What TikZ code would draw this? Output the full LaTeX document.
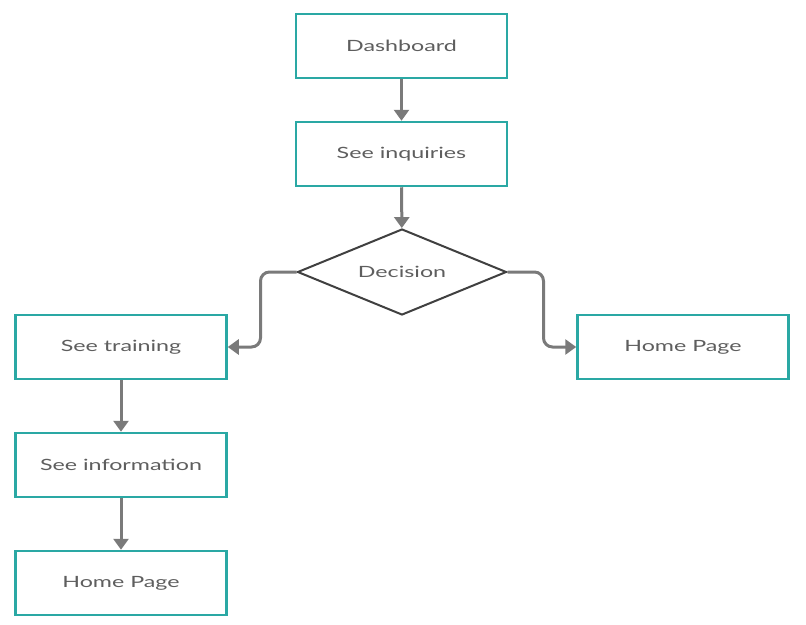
\documentclass[tikz,border=0pt]{standalone}
\usepackage{fontspec}
\setmainfont{Lato}
\newfontfamily\widelato[FakeStretch=1.5]{Lato}
\usepackage{xcolor}
\usetikzlibrary{arrows.meta}
\usetikzlibrary{shapes.geometric}
\definecolor{boxteal}{HTML}{2AA8A4}
\definecolor{linegray}{HTML}{7A7A7A}
\definecolor{textgray}{HTML}{5E5E5E}
\newcommand{\lbl}{\widelato\fontsize{15.5}{18}\selectfont\color{textgray}}

\begin{document}
\begin{tikzpicture}[x=1pt, y=-1pt,
    stepbox/.style={draw=boxteal, line width=2.5pt, fill=white, minimum width=211pt, minimum height=64pt, inner sep=0pt, font=\lbl},
    choice/.style={draw=black!75, line width=2pt, diamond, aspect=2.43, minimum width=209pt, minimum height=86pt, inner sep=0pt, font=\lbl},
    flow/.style={draw=linegray, line width=3pt, -{Triangle[width=15pt, length=11pt]}, rounded corners=9pt}]
    \useasboundingbox (0,0) rectangle (806,624);
    \node[stepbox] (dash) at (401.5,46) {Dashboard};
    \node[stepbox] (inq) at (401.5,154) {See inquiries};
    \node[choice] (dec) at (402,272) {Decision};
    \node[stepbox] (train) at (121,347) {See training};
    \node[stepbox] (homeR) at (683,347) {Home Page};
    \node[stepbox] (info) at (121,465) {See information};
    \node[stepbox] (homeL) at (121,583) {Home Page};
    \draw[flow] (dash) -- (inq);
    \draw[flow] (inq) -- (dec);
    \draw[flow] (dec.west) -- ++(-36,0) |- (train.east);
    \draw[flow] (dec.east) -- ++(36,0) |- (homeR.west);
    \draw[flow] (train) -- (info);
    \draw[flow] (info) -- (homeL);
\end{tikzpicture}
\end{document}
